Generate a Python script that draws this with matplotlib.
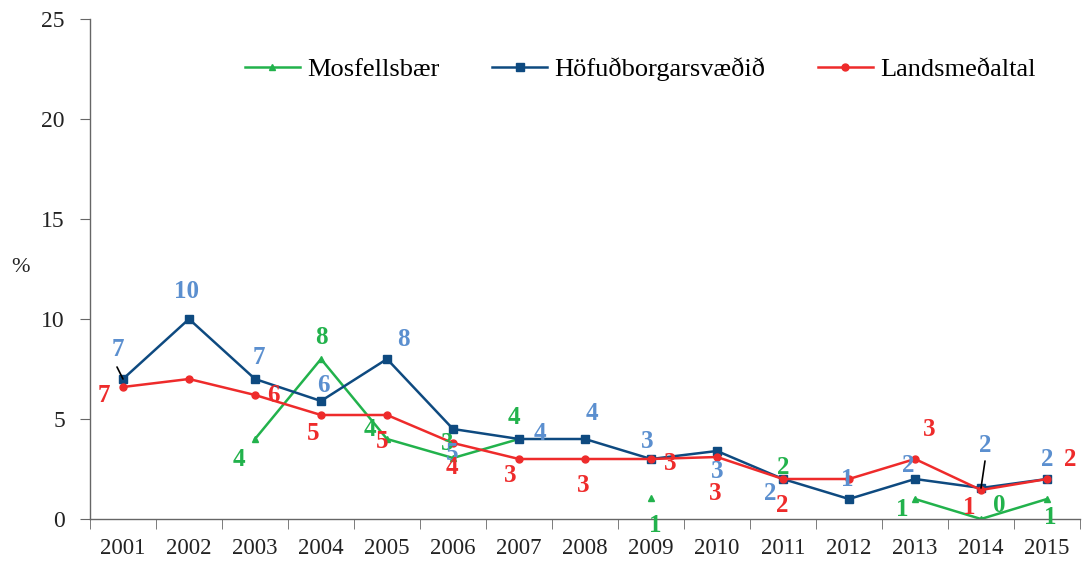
import numpy as np
import matplotlib
matplotlib.use("Agg")
import matplotlib.pyplot as plt

years = [str(y) for y in range(2001, 2016)]
nan = np.nan
mosfellsbaer = [nan, nan, 4.0, 8.0, 4.0, 3.05, 4.0, nan, 1.05, nan, 2.0, nan, 1.0, 0.0, 1.0]
hofudborg = [7.0, 10.0, 7.0, 5.9, 8.0, 4.5, 4.0, 4.0, 3.0, 3.4, 2.0, 1.0, 2.0, 1.55, 2.0]
landsmedaltal = [6.6, 7.0, 6.2, 5.2, 5.2, 3.8, 3.0, 3.0, 3.0, 3.1, 2.0, 2.0, 3.0, 1.45, 2.0]

mos_labels = [None, None, "4", "8", "4", "3", "4", None, "1", None, "2", None, "1", "0", "1"]
hof_labels = ["7", "10", "7", "6", "8", "5", "4", "4", "3", "3", "2", "1", "2", "2", "2"]
lan_labels = ["7", None, "6", "5", "5", "4", "3", "3", "3", "3", "2", None, "3", "1", "2"]

# label offsets in pixels (dx, dy)
mos_off = [None, None, (-16, -21), (0, 22), (-17, 10), (-6, 15), (-5, 21), None, (4, -27),
           None, (0, 12), None, (-13, -11), (18, 14), (3, -19)]
hof_off = [(-5, 30), (-3, 27), (4, 22), (2, 16), (16, 19), (-1, -24), (21, 6), (7, 25), (-4, 18),
           (0, -21), (-13, -14), (-2, 19), (-7, 14), (4, 43), (0, 19)]
lan_off = [(-19, -8), None, (18, -1), (-8, -18), (-5, -27), (-1, -24), (-9, -17), (-2, -27), (19, -4),
           (-2, -37), (-1, -26), None, (14, 30), (-12, -17), (23, 20)]

C_GREEN = "#22B24C"
C_BLUE = "#0E4A80"
C_RED = "#EE2B2B"
L_GREEN = "#22B24C"
L_BLUE = "#5B8FCF"
L_RED = "#EE2B2B"

plt.rcParams['font.family'] = ['Liberation Serif', 'DejaVu Serif']

fig = plt.figure(figsize=(10.82, 5.64), dpi=100)
ax = fig.add_axes([90 / 1082, 45 / 564, 990 / 1082, 500 / 564])

x = np.arange(len(years))
ax.plot(x, mosfellsbaer, color=C_GREEN, lw=1.8, marker="^", ms=5, label="Mosfellsbær", zorder=2)
ax.plot(x, hofudborg, color=C_BLUE, lw=1.8, marker="s", ms=5.5, label="Höfuðborgarsvæðið", zorder=3)
ax.plot(x, landsmedaltal, color=C_RED, lw=1.8, marker="o", ms=5, label="Landsmeðaltal", zorder=4)

def add_labels(vals, labs, offs, color):
    for i, (v, lab, off) in enumerate(zip(vals, labs, offs)):
        if lab is None or off is None or np.isnan(v):
            continue
        ax.annotate(lab, xy=(i, v), xytext=off, textcoords="offset pixels",
                    ha="center", va="center", fontsize=18, fontweight="bold",
                    color=color, zorder=5)

add_labels(mosfellsbaer, mos_labels, mos_off, L_GREEN)
add_labels(hofudborg, hof_labels, hof_off, L_BLUE)
add_labels(landsmedaltal, lan_labels, lan_off, L_RED)

# leader lines
ax.annotate("", xy=(0, hofudborg[0]), xytext=(-6, 12), textcoords="offset pixels",
            arrowprops=dict(arrowstyle="-", color="black", lw=1.2, shrinkA=0, shrinkB=0), zorder=6)
ax.annotate("", xy=(13, hofudborg[13]), xytext=(4, 27), textcoords="offset pixels",
            arrowprops=dict(arrowstyle="-", color="black", lw=1.2, shrinkA=0, shrinkB=0), zorder=6)

ax.set_xlim(-0.5, len(years) - 0.5)
ax.set_ylim(0, 25)
ax.set_yticks([0, 5, 10, 15, 20, 25])
ax.set_xticks(x)
ax.set_xticklabels(years)
ax.set_xticks(np.arange(-0.5, len(years), 1.0), minor=True)
ax.tick_params(axis="x", which="major", length=0, labelsize=16.5, pad=14, colors="#222222")
ax.tick_params(axis="x", which="minor", length=7, direction="out", color="#666666")
ax.tick_params(axis="y", length=7, direction="out", labelsize=17, color="#666666", labelcolor="#222222", pad=11)

for s in ["top", "right"]:
    ax.spines[s].set_visible(False)
for s in ["left", "bottom"]:
    ax.spines[s].set_color("#666666")
    ax.spines[s].set_linewidth(1.0)

fig.text(20 / 1082, 1 - 268 / 564, "%", fontsize=16, ha="center", va="center", color="#222222")

leg = fig.legend(*ax.get_legend_handles_labels(), loc="center",
                 bbox_to_anchor=(640 / 1082, 1 - 69 / 564), bbox_transform=fig.transFigure,
                 ncol=3, frameon=False, fontsize=19, handlelength=2.1, columnspacing=2.0,
                 handletextpad=0.25)

fig.savefig("out.png", dpi=100)
